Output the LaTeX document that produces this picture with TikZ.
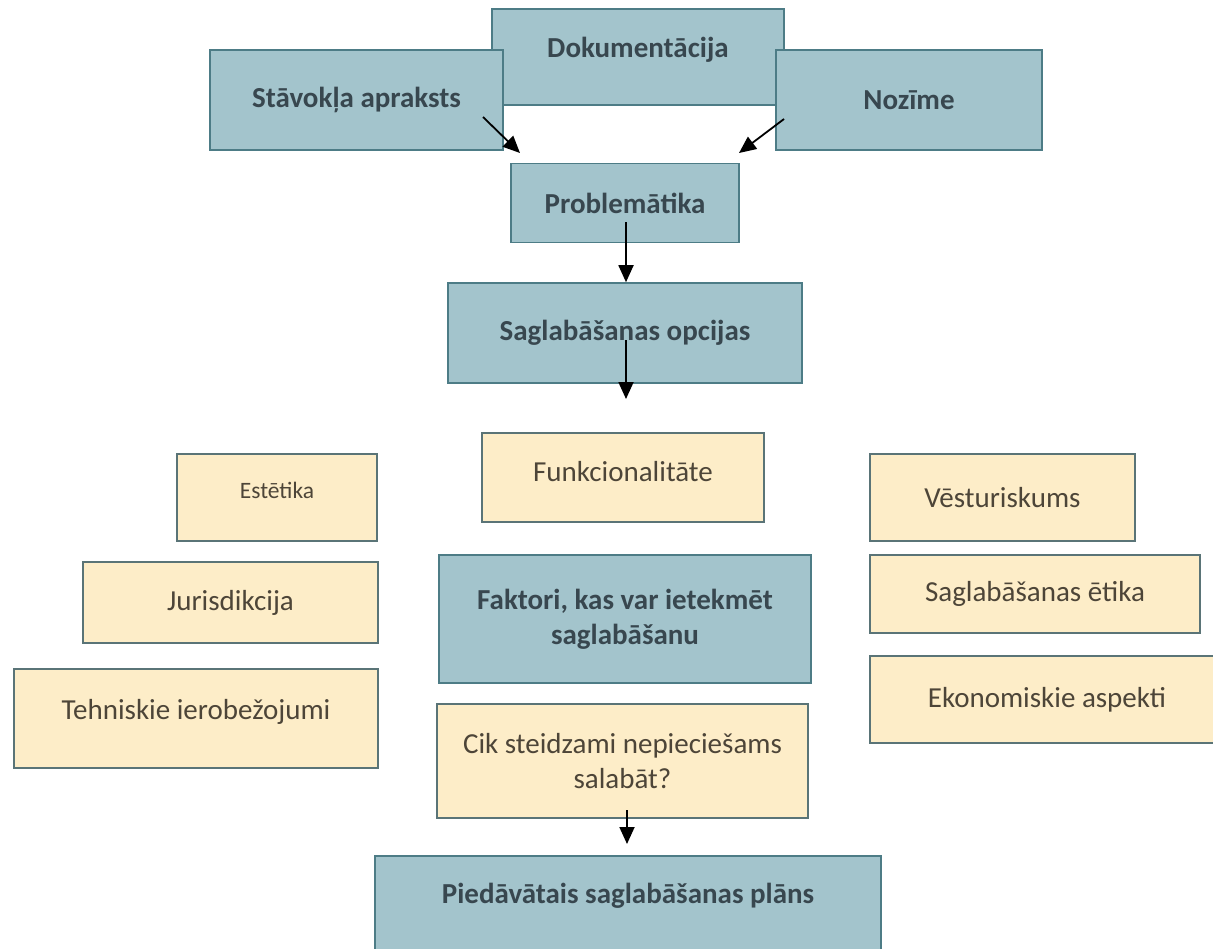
\documentclass[tikz,border=0pt]{standalone}
\usepackage{fontspec}
\setmainfont{Carlito}
\usetikzlibrary{arrows.meta}
\definecolor{bfill}{HTML}{A3C4CC}
\definecolor{bbord}{HTML}{4D7C86}
\definecolor{btxt}{HTML}{38474F}
\definecolor{yfill}{HTML}{FDEDC8}
\definecolor{ybord}{HTML}{5A7477}
\definecolor{ytxt}{HTML}{4D4538}
\tikzset{
  bbox/.style={draw=bbord, line width=1.6pt, fill=bfill, text=btxt, inner sep=0pt, align=center,
    font=\fontsize{29}{35}\selectfont\bfseries},
  ybox/.style={draw=ybord, line width=1.3pt, fill=yfill, text=ytxt, inner sep=0pt, align=center,
    font=\fontsize{29}{35}\selectfont},
  arr/.style={line width=1.8pt, draw=black, -{Triangle[length=17pt,width=15pt]}},
}
\begin{document}
\begin{tikzpicture}[x=1pt,y=-1pt]
\useasboundingbox (0,0) rectangle (1213,948);
\clip (0,0) rectangle (1213,948);
% top row
\node[bbox, minimum width=292, minimum height=96] (doc) at (638,57) {\raisebox{0pt}[0pt][0pt]{Dokumentācija}};
\node[bbox, minimum width=293, minimum height=100] (sta) at (356.5,100) {Stāvokļa apraksts};
\node[bbox, minimum width=266, minimum height=100] (noz) at (909,100) {Nozīme};
\node[bbox, minimum width=228, minimum height=79] (prob) at (625,203) {Problemātika};
\node[bbox, minimum width=354, minimum height=100] (opc) at (625,333) {Saglabāšanas opcijas};
% left column
\node[ybox, minimum width=200, minimum height=87, font=\fontsize{23.5}{28}\selectfont] (est) at (277,497.5) {\raisebox{-1pt}[0pt][0pt]{Estētika}};
\node[ybox, minimum width=295, minimum height=81] (jur) at (230.5,602.5) {Jurisdikcija};
\node[ybox, minimum width=364, minimum height=99] (teh) at (196,718.5) {\raisebox{-1pt}[0pt][0pt]{Tehniskie ierobežojumi}};
% middle column
\node[ybox, minimum width=282, minimum height=89] (fun) at (623,477.5) {\raisebox{-4pt}[0pt][0pt]{Funkcionalitāte}};
\node[bbox, minimum width=372, minimum height=128] (fak) at (625,619) {Faktori, kas var ietekmēt\\saglabāšanu};
\node[ybox, minimum width=371, minimum height=114] (cik) at (622.5,761) {Cik steidzami nepieciešams\\salabāt?};
\node[bbox, minimum width=506, minimum height=96] (pie) at (628,904) {\raisebox{1pt}[0pt][0pt]{Piedāvātais saglabāšanas plāns}};
% right column
\node[ybox, minimum width=265, minimum height=87] (ves) at (1002.5,497.5) {Vēsturiskums};
\node[ybox, minimum width=330, minimum height=78] (eti) at (1035,594) {Saglabāšanas ētika};
\node[ybox, minimum width=354, minimum height=87] (eko) at (1047,699.5) {Ekonomiskie aspekti};
% connectors
\coordinate (a1s) at (483,117);
\coordinate (a1e) at (520,153);
\coordinate (a2s) at (784,119);
\coordinate (a2e) at (739,153);
\coordinate (p1) at (626,222);
\coordinate (p2) at (626,340);
\coordinate (p2e) at (626,399);
\coordinate (p3) at (627,810);
\coordinate (p3e) at (627,844);
\draw[arr] (a1s) -- (a1e);
\draw[arr] (a2s) -- (a2e);
\draw[arr] (p1) -- (p1 |- opc.north);
\draw[arr] (p2) -- (p2e);
\draw[arr] (p3) -- (p3e);
\end{tikzpicture}
\end{document}
